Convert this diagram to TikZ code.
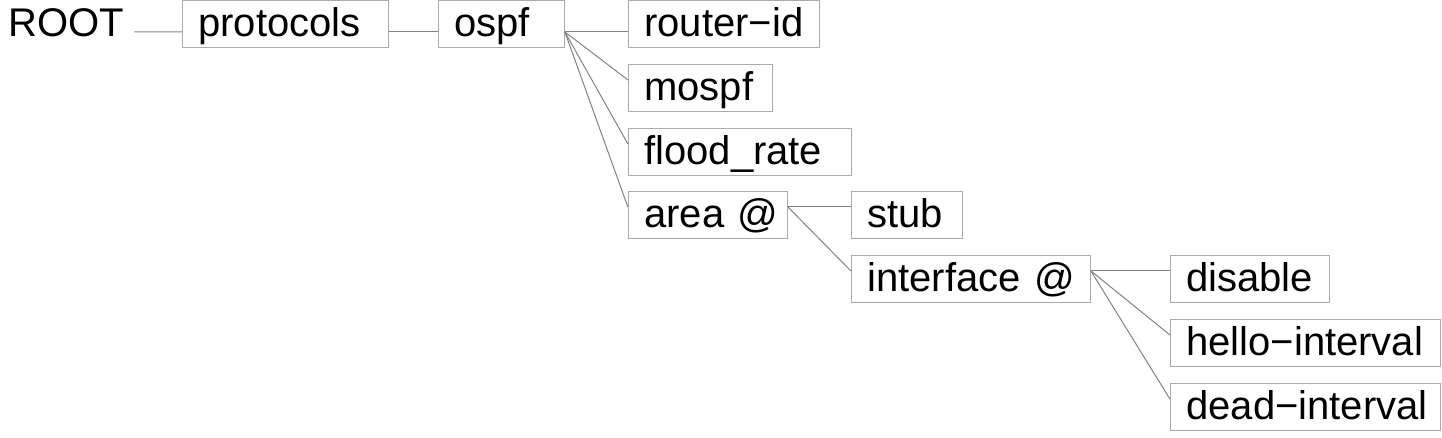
\documentclass[tikz,border=0pt]{standalone}
\usepackage{fontspec}
\setmainfont{Liberation Sans}
\usepackage{tikz}
\usetikzlibrary{positioning}
\definecolor{boxgray}{RGB}{170,170,170}
\definecolor{linkgray}{RGB}{130,130,130}

\begin{document}
\begin{tikzpicture}[
    lbl/.style={inner xsep=8pt, inner ysep=1.25pt, text height=17pt, text depth=4pt,
                font=\fontsize{20}{22}\selectfont, align=left},
    box/.style={lbl, draw=boxgray, line width=0.5pt, text width=#1},
    link/.style={linkgray, line width=0.5pt}]
\useasboundingbox (0,0) rectangle (721pt,-219pt);
\node[lbl, anchor=north west, inner xsep=5pt] (root) at (-1pt,0) {ROOT};
\node[box=87pt, right=23.75pt of root] (protocols) {protocols};
\node[box=47pt, right=24.5pt of protocols] (ospf) {ospf};
\node[box=79.5pt, right=31.5pt of ospf] (routerid) {router−id};
\node[box=56pt, below right=8pt and 0pt of routerid.south west] (mospf) {mospf};
\node[box=95.5pt, below right=8pt and 0pt of mospf.south west] (floodrate) {flood\_rate};
\node[box=63.5pt, below right=7.5pt and 0pt of floodrate.south west] (area) {area~@};
\node[box=39.5pt, right=31.5pt of area] (stub) {stub};
\node[box=103.5pt, below right=8pt and 0pt of stub.south west] (interface) {interface~@};
\node[box=63.5pt, right=39.5pt of interface] (disable) {disable};
\node[box=119pt, below right=8pt and 0pt of disable.south west] (hello) {hello−interval};
\node[box=119pt, below right=8pt and 0pt of hello.south west] (dead) {dead−interval};
% top row
\draw[link] ([yshift=8pt]root.south east) -- ([yshift=8pt]protocols.south west);
\draw[link] ([yshift=8pt]protocols.south east) -- ([yshift=8pt]ospf.south west);
\draw[link] ([yshift=8pt]ospf.south east) -- ([yshift=8pt]routerid.south west);
\draw[link] ([yshift=8pt]ospf.south east) -- ([yshift=-8pt]mospf.north west);
\draw[link] ([yshift=8pt]ospf.south east) -- ([yshift=-8pt]floodrate.north west);
\draw[link] ([yshift=8pt]ospf.south east) -- ([yshift=-8pt]area.north west);
% area
\draw[link] ([yshift=-8pt]area.north east) -- ([yshift=-8pt]stub.north west);
\draw[link] ([yshift=-8pt]area.north east) -- ([yshift=-8pt]interface.north west);
% interface
\draw[link] ([yshift=-8pt]interface.north east) -- ([yshift=-8pt]disable.north west);
\draw[link] ([yshift=-8pt]interface.north east) -- ([yshift=-8pt]hello.north west);
\draw[link] ([yshift=-8pt]interface.north east) -- ([yshift=-8pt]dead.north west);
\end{tikzpicture}
\end{document}
